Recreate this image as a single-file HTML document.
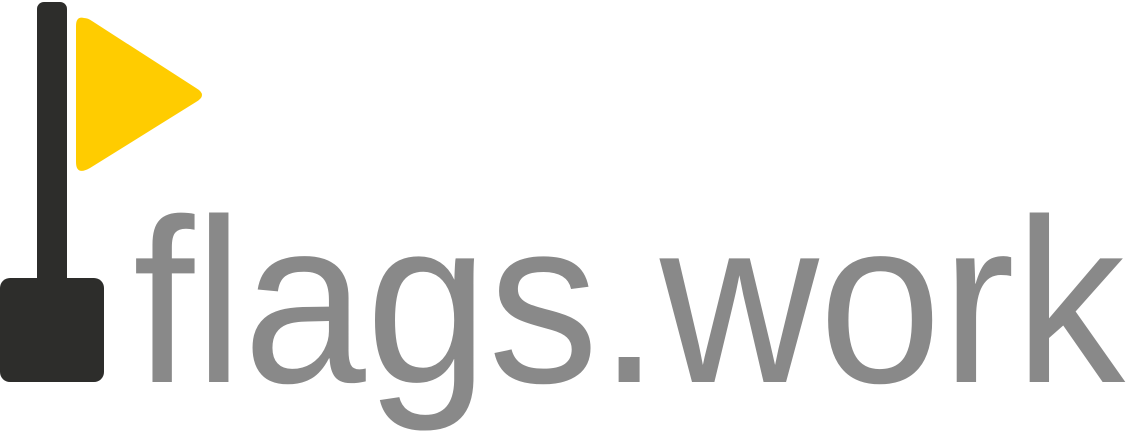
<!DOCTYPE html>
<html>
<head>
<meta charset="utf-8">
<style>
  html,body{margin:0;padding:0;background:#fff;width:1135px;height:433px;overflow:hidden;}
  svg{display:block;}
</style>
</head>
<body>
<svg width="1135" height="433" viewBox="0 0 1135 433">
  <rect x="37" y="2" width="30" height="290" rx="7" fill="#2d2d2b"/>
  <rect x="0" y="278" width="104" height="104" rx="10" fill="#2d2d2b"/>
  <path
        d="M84 18 Q76 16 76 26 L76 162 Q76 176 90 168 L196 102 Q208 95 196 88 L92 21 Q88 18 84 18 Z"
        fill="#ffcc00"/>
  <text x="133" y="382"
        font-family="'Liberation Sans', sans-serif" font-size="234" fill="#898989"
        textLength="992" lengthAdjust="spacingAndGlyphs">flags.work</text>
</svg>
</body>
</html>
